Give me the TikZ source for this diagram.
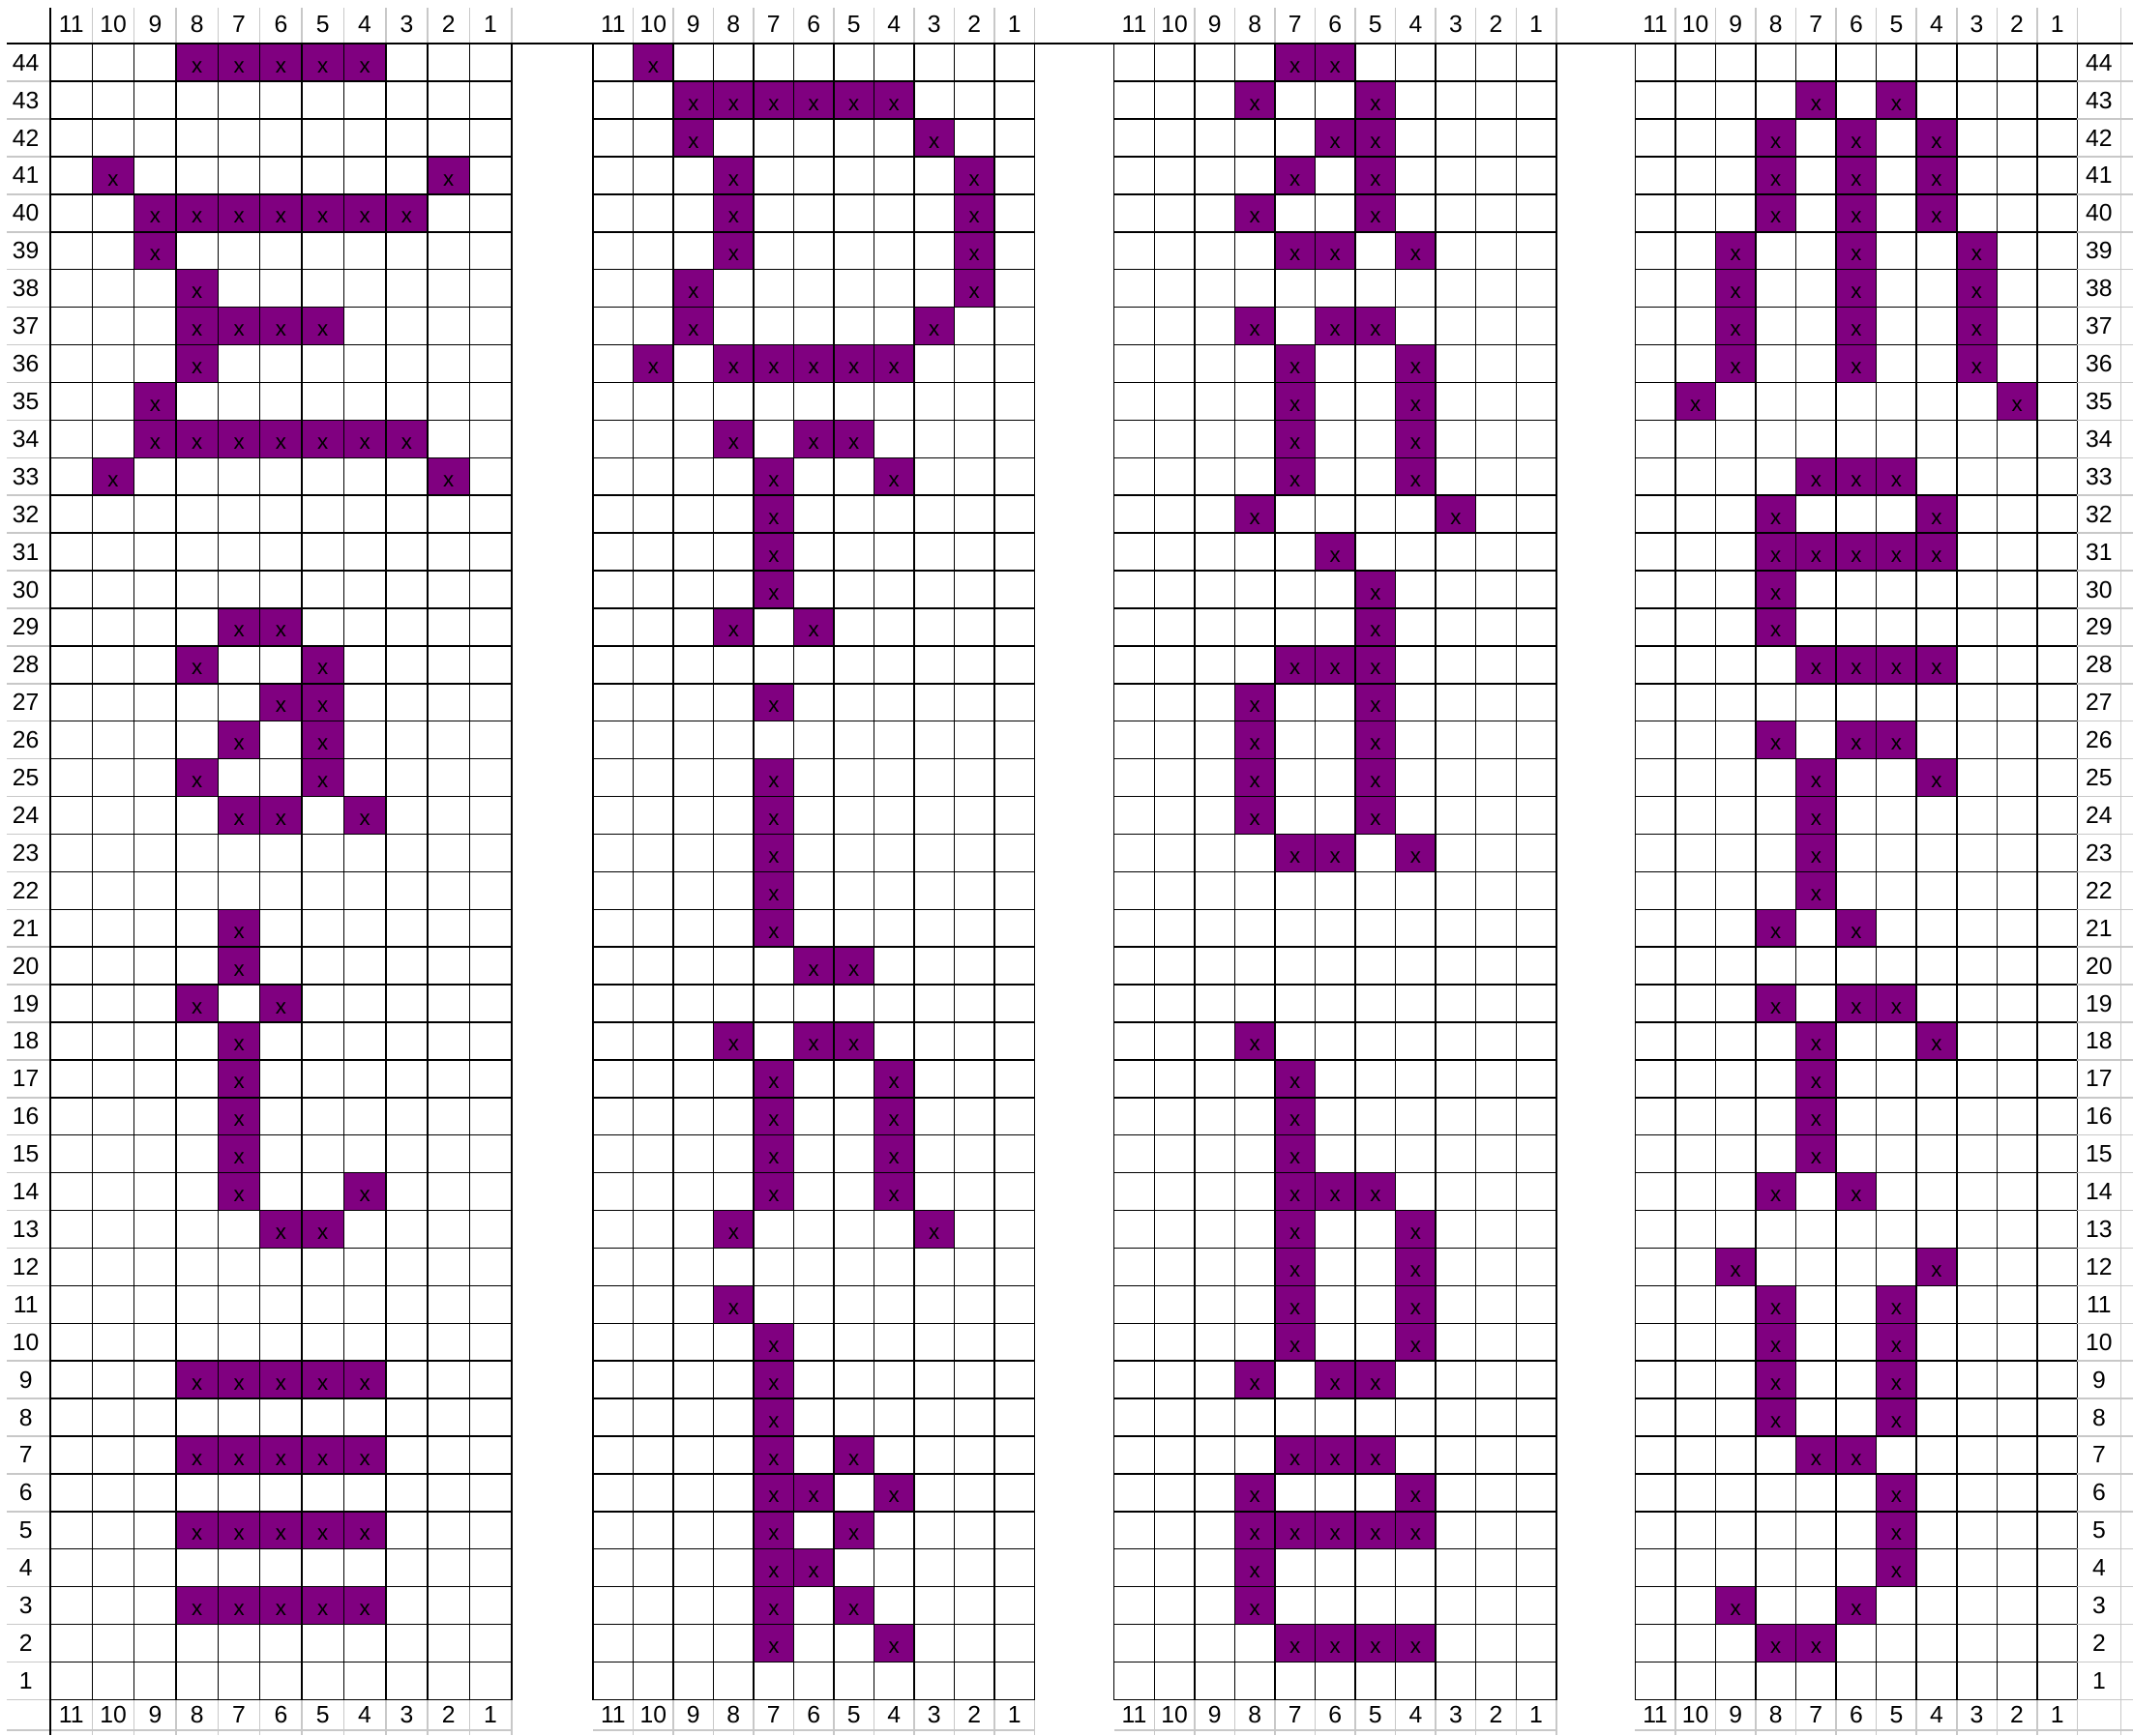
\documentclass[tikz,border=0pt]{standalone}
\usepackage{fontspec}
\setmainfont{Liberation Sans}
\definecolor{stitchpurple}{RGB}{128,0,128}
\definecolor{sheetgray}{RGB}{200,200,200}
% filled cells per chart: row/{columns}
\def\cellsA{44/{8,7,6,5,4},41/{10,2},40/{9,8,7,6,5,4,3},39/{9},38/{8},37/{8,7,6,5},36/{8},35/{9},34/{9,8,7,6,5,4,3},33/{10,2},29/{7,6},28/{8,5},27/{6,5},26/{7,5},25/{8,5},24/{7,6,4},21/{7},20/{7},19/{8,6},18/{7},17/{7},16/{7},15/{7},14/{7,4},13/{6,5},9/{8,7,6,5,4},7/{8,7,6,5,4},5/{8,7,6,5,4},3/{8,7,6,5,4}}
\def\cellsB{44/{10},43/{9,8,7,6,5,4},42/{9,3},41/{8,2},40/{8,2},39/{8,2},38/{9,2},37/{9,3},36/{10,8,7,6,5,4},34/{8,6,5},33/{7,4},32/{7},31/{7},30/{7},29/{8,6},27/{7},25/{7},24/{7},23/{7},22/{7},21/{7},20/{6,5},18/{8,6,5},17/{7,4},16/{7,4},15/{7,4},14/{7,4},13/{8,3},11/{8},10/{7},9/{7},8/{7},7/{7,5},6/{7,6,4},5/{7,5},4/{7,6},3/{7,5},2/{7,4}}
\def\cellsC{44/{7,6},43/{8,5},42/{6,5},41/{7,5},40/{8,5},39/{7,6,4},37/{8,6,5},36/{7,4},35/{7,4},34/{7,4},33/{7,4},32/{8,3},31/{6},30/{5},29/{5},28/{7,6,5},27/{8,5},26/{8,5},25/{8,5},24/{8,5},23/{7,6,4},18/{8},17/{7},16/{7},15/{7},14/{7,6,5},13/{7,4},12/{7,4},11/{7,4},10/{7,4},9/{8,6,5},7/{7,6,5},6/{8,4},5/{8,7,6,5,4},4/{8},3/{8},2/{7,6,5,4}}
\def\cellsD{43/{7,5},42/{8,6,4},41/{8,6,4},40/{8,6,4},39/{9,6,3},38/{9,6,3},37/{9,6,3},36/{9,6,3},35/{10,2},33/{7,6,5},32/{8,4},31/{8,7,6,5,4},30/{8},29/{8},28/{7,6,5,4},26/{8,6,5},25/{7,4},24/{7},23/{7},22/{7},21/{8,6},19/{8,6,5},18/{7,4},17/{7},16/{7},15/{7},14/{8,6},12/{9,4},11/{8,5},10/{8,5},9/{8,5},8/{8,5},7/{7,6},6/{5},5/{5},4/{5},3/{9,6},2/{8,7}}

\begin{document}
\begin{tikzpicture}[x=0.2mm,y=-0.2mm,line width=.6pt,font=\fontsize{10}{11}\selectfont]
\useasboundingbox (0,0) rectangle (1568,1276);
\foreach \g/\gx/\gw/\gcells in {1/37/30.82/\cellsA,2/436/29.5/\cellsB,3/819/29.55/\cellsC,4/1202/29.55/\cellsD}{
  \edef\celldata{\gcells}
  \foreach \r/\rowcols in \celldata
    \foreach \c in \rowcols{
      \fill[stitchpurple] ({\gx+(11-\c)*\gw},{32.2+(44-\r)*27.67}) rectangle ++(\gw,27.67);
      \node[inner sep=0pt,font=\fontsize{9}{10}\selectfont] (x\g-\r-\c) at ({\gx+(11.5-\c)*\gw},{32.2+(44.62-\r)*27.67}) {x};
    }
  \foreach \k in {0,...,11}
    \draw ({\gx+\k*\gw},32.2) -- ({\gx+\k*\gw},1250);
  \foreach \j in {1,...,44}
    \draw (\gx,{32.2+\j*27.67}) -- ({\gx+11*\gw},{32.2+\j*27.67});
  \foreach \c in {11,...,1}{
    \node (top\g-\c) at ({\gx+(11.5-\c)*\gw},18) {\c};
    \node (bot\g-\c) at ({\gx+(11.5-\c)*\gw},1261) {\c};
  }
  \foreach \k in {1,...,11}{
    \draw[sheetgray] ({\gx+\k*\gw},6) -- ({\gx+\k*\gw},32.2);
    \draw[sheetgray] ({\gx+\k*\gw},1250) -- ({\gx+\k*\gw},1276);
  }
  \draw[sheetgray] (\gx,1272) -- ({\gx+11*\gw},1272);
}
% row numbers at both sides
\foreach \r in {1,...,44}{
  \node (rowL\r) at (19,{32.2+(44.5-\r)*27.67}) {\r};
  \node (rowR\r) at (1543,{32.2+(44.5-\r)*27.67}) {\r};
}
\foreach \j in {1,...,44}{
  \draw[sheetgray] (5,{32.2+\j*27.67}) -- (37,{32.2+\j*27.67});
  \draw[sheetgray] (1527,{32.2+\j*27.67}) -- (1568,{32.2+\j*27.67});
}
\draw[sheetgray] (1559,6) -- (1559,1276);
\draw[sheetgray] (5,1272) -- (37,1272);
\draw[sheetgray] (1527,1272) -- (1568,1272);
\draw (37,6) -- (37,1276);
\draw[line width=.9pt] (5,32.2) -- (1568,32.2);
\end{tikzpicture}
\end{document}
